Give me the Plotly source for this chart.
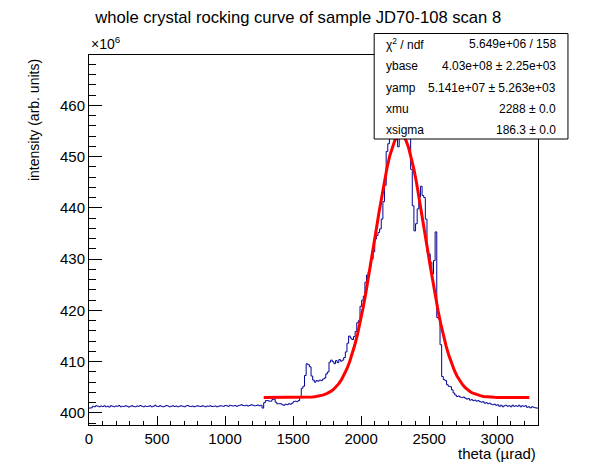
import numpy as np
import plotly.graph_objects as go

# ---------------- data ----------------
bin_width = 12.0          # theta bin width (µrad)
x_min = 0.0
# histogram contents, units of 1e6 (arb. units), one value per 12 µrad bin from 0 to 3300
baseline_counts = [
    400.95, 401.0, 401.3, 401.2, 401.4, 401.3, 401.2, 401.35, 401.25, 401.4,
    401.2, 401.3, 401.15, 401.4, 401.3, 401.2, 401.35, 401.3, 401.45, 401.2,
    401.3, 401.25, 401.4, 401.3, 401.15, 401.3, 401.4, 401.25, 401.2, 401.35,
    401.3, 401.45, 401.3, 401.2, 401.35, 401.25, 401.3, 401.4, 401.2, 401.3,
    401.5, 401.3, 401.25, 401.4, 401.3, 401.2, 401.3, 401.45, 401.35, 401.2,
    401.3, 401.4, 401.25, 401.35, 401.2, 401.3, 401.4, 401.3, 401.2, 401.35,
    401.45, 401.3, 401.25, 401.35, 401.2, 401.3, 401.4, 401.3, 401.25, 401.4,
    401.3, 401.2, 401.35, 401.3, 401.4, 401.25, 401.3, 401.35, 401.2, 401.3,
    401.4, 401.35, 401.3, 401.45, 401.4, 401.3, 401.5, 401.4, 401.35, 401.45,
    401.3, 401.4, 401.5, 401.6, 401.45, 401.4, 401.5, 401.35, 401.45, 401.6,
    401.5, 401.4, 401.45, 401.55, 401.4, 401.5, 400.95,
]
peak_counts = [
    402.0, 402.4, 402.4, 402.3, 402.3, 402.6, 402.7, 402.1, 401.8, 401.8,
    401.8, 401.6, 401.5, 401.7, 401.6, 401.8, 401.7, 401.9, 402.2, 402.3,
    402.2, 402.4, 403.1, 404.8, 405.2, 407.3, 409.6, 409.4, 409.0, 407.2,
    406.4, 406.0, 406.3, 406.2, 406.4, 406.3, 406.6, 406.8, 407.6, 408.0,
    409.9, 410.3, 410.0, 409.6, 410.2, 409.8, 410.4, 410.1, 410.3, 410.8,
    411.9, 413.6, 415.0, 414.6, 414.3, 414.9, 415.9, 417.6, 418.0, 420.8,
    422.0, 422.8, 425.5, 426.9, 427.5, 428.7, 430.0, 431.4, 433.9, 434.6,
    435.2, 435.9, 437.8, 441.2, 444.4, 451.0, 452.5, 453.5, 456.0, 455.0,
    453.1, 453.6, 451.9, 457.0, 459.0, 461.5, 466.9, 462.0, 458.5, 455.0,
    447.5, 440.4, 435.5, 436.9, 439.8, 442.1, 444.2, 442.4, 442.0, 437.8,
    431.4, 431.0, 429.4, 427.1, 429.7, 435.3, 418.6, 418.3, 413.3, 407.1,
    406.5, 406.3, 405.5, 405.2, 405.1, 404.5, 403.9, 403.5, 403.2, 403.3,
    403.1, 403.0, 403.1, 402.9, 402.7, 402.8, 402.5, 402.6, 402.4, 402.5,
    402.3, 402.4, 402.2, 402.1, 402.2, 401.9, 402.0, 401.8, 401.9, 401.7,
    401.6, 401.7, 401.5, 401.6,
]
tail_counts = [
    401.3, 401.5, 401.2, 401.4, 401.5, 401.3, 401.4, 401.2, 401.5, 401.3,
    401.4, 401.3, 401.5, 401.2, 401.4, 401.3, 401.4,
    401.1, 401.2, 401.0, 401.2, 401.1, 401.0, 400.95,
]
counts = baseline_counts + peak_counts + tail_counts

# fit parameters (from the stats box), y in units of 1e6
fit_ybase = 403.0
fit_yamp = 51.41
fit_xmu = 2288.0
fit_xsigma = 186.3
fit_range = [1284.0, 3236.0]

stats_labels = ["χ<sup>2</sup> / ndf", "ybase", "yamp", "xmu", "xsigma"]
stats_values = ["5.649e+06 / 158", "4.03e+08 ± 2.25e+03", "5.141e+07 ± 5.263e+03",
                "2288 ± 0.0", "186.3 ± 0.0"]

x_range = [0, 3300]
y_range = [397.65, 469.8]

# ---------------- figure ----------------
edges = x_min + bin_width * np.arange(len(counts) + 1)
hx = list(edges)
hy = list(counts) + [counts[-1]]

fx = np.linspace(fit_range[0], fit_range[1], 100)
fy = fit_ybase + fit_yamp * np.exp(-0.5 * ((fx - fit_xmu) / fit_xsigma) ** 2)

FONT = "Liberation Sans, Arial, Helvetica, sans-serif"

fig = go.Figure()
fig.add_trace(go.Scatter(x=hx, y=hy, mode="lines", line=dict(color="#000099", width=1, shape="hv"),
                         hoverinfo="skip", showlegend=False))
fig.add_trace(go.Scatter(x=fx, y=fy, mode="lines", line=dict(color="#ff0000", width=3),
                         hoverinfo="skip", showlegend=False))

# page offset (body margin) compensation: page px -> figure px
OFF = 8
W, H = 582, 458
L = 89 - OFF
T = 55 - OFF
R = W - (538.5 - OFF)
B = H - (425 - OFF)
pw, ph = W - L - R, H - T - B


def px2paper_x(px):
    return (px - OFF - L) / pw


def px2paper_y(py):
    return (H - B - (py - OFF)) / ph


fig.update_layout(
    width=W, height=H,
    margin=dict(l=L, r=R, t=T, b=B, pad=0, autoexpand=False),
    paper_bgcolor="white", plot_bgcolor="white",
    font=dict(family=FONT, color="black"),
    title=dict(text="whole crystal rocking curve of sample JD70-108 scan 8",
               x=px2paper_x(298.5), xref="paper", xanchor="center",
               y=1 - (17 - OFF) / H, yanchor="middle",
               font=dict(size=16.6, family=FONT, color="black"), automargin=False),
    xaxis=dict(range=x_range, showgrid=False, zeroline=False, showline=True, linecolor="black",
               linewidth=1, mirror=True, ticks="inside", ticklen=9, tickcolor="black",
               dtick=500, tick0=0, tickfont=dict(size=15, family=FONT), automargin=False,
               minor=dict(dtick=100, ticks="inside", ticklen=4.5, tickcolor="black")),
    yaxis=dict(range=y_range, showgrid=False, zeroline=False, showline=True, linecolor="black",
               linewidth=1, mirror=True, ticks="inside", ticklen=13, tickcolor="black",
               dtick=10, tick0=400, tickfont=dict(size=15, family=FONT), automargin=False,
               minor=dict(dtick=2, ticks="inside", ticklen=7, tickcolor="black")),
)

# axis titles and exponent
fig.add_annotation(text="intensity (arb. units)", xref="paper", yref="paper",
                   x=px2paper_x(34), y=px2paper_y(57), xanchor="center", yanchor="top", textangle=-90,
                   showarrow=False, font=dict(size=14, family=FONT))
fig.add_annotation(text="theta (µrad)", xref="paper", yref="paper",
                   x=1, y=px2paper_y(453), xanchor="right", yanchor="middle",
                   showarrow=False, font=dict(size=15, family=FONT))
fig.add_annotation(text="×10<sup>6</sup>", xref="paper", yref="paper",
                   x=0, y=px2paper_y(54), xanchor="left", yanchor="bottom",
                   showarrow=False, font=dict(size=14, family=FONT))

# stats box
bx0, bx1, by0, by1 = 374.5, 568.5, 33.5, 139.0
fig.add_shape(type="rect", xref="paper", yref="paper",
              x0=px2paper_x(bx0), x1=px2paper_x(bx1), y0=px2paper_y(by1), y1=px2paper_y(by0),
              line=dict(color="black", width=1), fillcolor="white", layer="above")
row_y = [44, 66, 87.5, 108.7, 130]
for lab, val, ry in zip(stats_labels, stats_values, row_y):
    fig.add_annotation(text=lab, xref="paper", yref="paper", x=px2paper_x(384), y=px2paper_y(ry),
                       xanchor="left", yanchor="middle", showarrow=False,
                       font=dict(size=12, family=FONT))
    fig.add_annotation(text=val, xref="paper", yref="paper", x=px2paper_x(559), y=px2paper_y(ry),
                       xanchor="right", yanchor="middle", showarrow=False,
                       font=dict(size=12, family=FONT))

fig.write_html("out.html")
